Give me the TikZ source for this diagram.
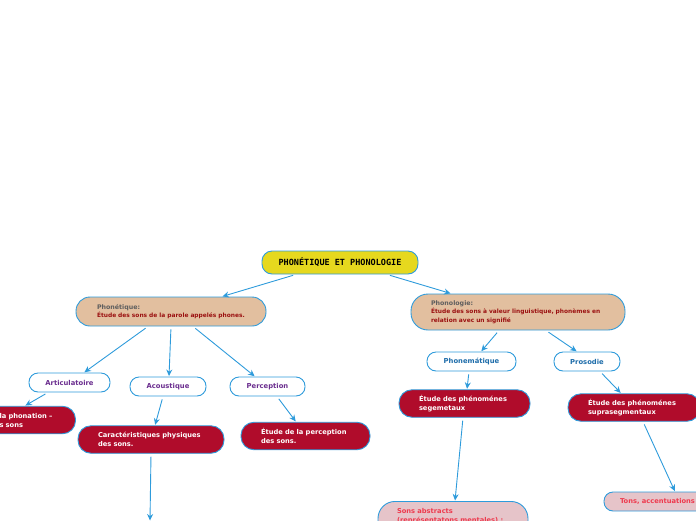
\documentclass[tikz,border=0pt]{standalone}
\usepackage{fontspec}
\setmainfont{DejaVu Sans}
\newfontfamily\rootfont{DejaVu Sans Mono}
\usetikzlibrary{arrows.meta}
\definecolor{bluex}{HTML}{2E9BDB}
\definecolor{yellowx}{HTML}{E6D81E}
\definecolor{tanx}{HTML}{E2BF9F}
\definecolor{redx}{HTML}{B00C2B}
\definecolor{purplex}{HTML}{6B2E8F}
\definecolor{bluetext}{HTML}{1E6DAA}
\definecolor{grayx}{HTML}{5E5E5E}
\definecolor{darkredx}{HTML}{9B1111}
\definecolor{pinkx}{HTML}{E6C4C9}
\definecolor{pinktext}{HTML}{EE3A4E}
\tikzset{
  ar/.style={-{Stealth[length=6.5pt,width=6pt]},bluex,line width=0.9pt,shorten <=3pt,shorten >=0.5pt},
  box/.style={draw=bluex,line width=0.9pt,inner ysep=2pt},
  topic/.style={box,fill=yellowx,rounded corners=10pt,minimum width=156pt,minimum height=23pt,font=\rootfont\bfseries\fontsize{8.5}{10}\selectfont},
  main/.style={box,fill=tanx,align=left,text=darkredx,font=\bfseries\fontsize{5.9}{8.5}\selectfont},
  sub/.style={box,fill=white,rounded corners=9pt,minimum height=19pt,font=\bfseries\fontsize{6.8}{8}\selectfont},
  note/.style={box,fill=redx,rounded corners=13pt,minimum height=27.5pt,inner xsep=20pt,align=left,text=white,font=\bfseries\fontsize{6.7}{9}\selectfont},
  leaf/.style={box,fill=pinkx,rounded corners=9pt,align=left,text=pinktext,font=\bfseries\fontsize{6.7}{9}\selectfont}
}
\begin{document}
\begin{tikzpicture}[x=1pt,y=-1pt]
\useasboundingbox (0,0) rectangle (696,520);

\node[topic] (root) at (340,262.5) {PHONÉTIQUE ET PHONOLOGIE};

\node[main,rounded corners=14pt,minimum height=29pt,inner xsep=21pt,text width=148pt] (phonetique) at (171,311.5)
  {{\color{grayx}\fontsize{6.3}{8.5}\selectfont Phonétique:}\\Étude des sons de la parole appelés phones.};
\node[main,rounded corners=17pt,minimum height=36pt,inner xsep=20pt,text width=174pt] (phonologie) at (518,312)
  {{\color{grayx}\fontsize{6.3}{8.5}\selectfont Phonologie:}\\Étude des sons à valeur linguistique, phonèmes en\\relation avec un signifié};

\node[sub,text=purplex,minimum width=81pt] (articulatoire) at (69.5,382.5) {Articulatoire};
\node[sub,text=purplex,minimum width=76pt] (acoustique) at (168,386.5) {Acoustique};
\node[sub,text=purplex,minimum width=75pt] (perception) at (267.5,386.5) {Perception};
\node[sub,text=bluetext,minimum width=89pt] (phonematique) at (471.5,361.5) {Phonemátique};
\node[sub,text=bluetext,minimum width=66pt] (prosodie) at (587,361.5) {Prosodie};

\node[note,text width=56pt] (phonation) at (27.5,420) {la phonation –\\s sons};
\node[note,text width=106pt] (caracteristiques) at (151,439.5) {Caractéristiques physiques\\des sons.};
\node[note,text width=89pt] (etudeperception) at (305.5,436) {Étude de la perception\\des sons.};
\node[note,text width=91pt] (segmentaux) at (464.5,403.5) {Étude des phénoménes\\segemetaux};
\node[note,text width=92pt] (suprasegmentaux) at (634,407.5) {Étude des phénoménes\\suprasegmentaux};

\node[leaf,rounded corners=17pt,inner xsep=19pt,inner ysep=7pt,text width=112pt,text depth=22pt,anchor=north] (abstracts) at (453,501)
  {Sons abstracts\\(représentatons mentales) :};
\node[leaf,inner xsep=16pt,minimum height=19pt,text width=98pt] (tons) at (669,501.5) {Tons, accentuations};
\coordinate (below) at (150,521);

\draw[ar] ([xshift=-44pt]root.south) -- ([xshift=51pt]phonetique.north);
\draw[ar] ([xshift=47pt]root.south) -- ([xshift=-67pt]phonologie.north);
\draw[ar] ([xshift=-23pt]phonetique.south) -- ([xshift=14.5pt]articulatoire.north);
\draw[ar] (phonetique.south) -- ([xshift=1pt]acoustique.north);
\draw[ar] ([xshift=22pt]phonetique.south) -- ([xshift=-12.5pt]perception.north);
\draw[ar] ([xshift=-21.5pt]articulatoire.south) -- ([xshift=-2.5pt]phonation.north);
\draw[ar] ([xshift=-5pt]acoustique.south) -- ([xshift=4pt]caracteristiques.north);
\draw[ar] ([xshift=9.5pt]perception.south) -- ([xshift=-9.5pt]etudeperception.north);
\draw[ar] (caracteristiques.south) -- (below);
\draw[ar] ([xshift=-19pt]phonologie.south) -- ([xshift=9.5pt]phonematique.north);
\draw[ar] ([xshift=28pt]phonologie.south) -- ([xshift=-10pt]prosodie.north);
\draw[ar] ([xshift=-2.5pt]phonematique.south) -- ([xshift=2.5pt]segmentaux.north);
\draw[ar] ([xshift=13pt]prosodie.south) -- ([xshift=-13pt]suprasegmentaux.north);
\draw[ar] ([xshift=-1.5pt]segmentaux.south) -- ([xshift=2pt]abstracts.north);
\draw[ar] ([xshift=9pt]suprasegmentaux.south) -- ([xshift=6pt]tons.north);
\end{tikzpicture}
\end{document}
